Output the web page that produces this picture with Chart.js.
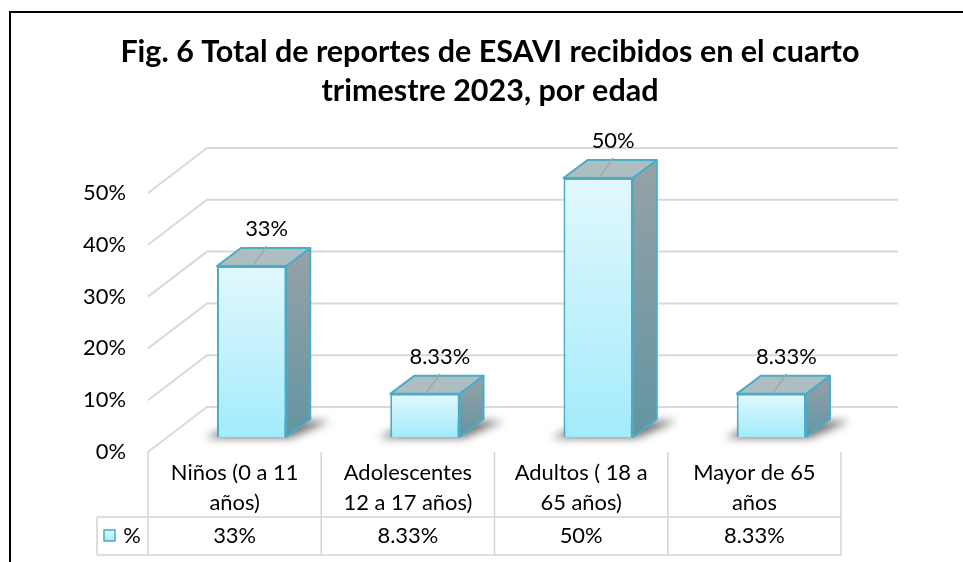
<!DOCTYPE html>
<html><head><meta charset="utf-8">
<script src="https://cdn.jsdelivr.net/npm/chart.js@4.4.1/dist/chart.umd.min.js"></script>
<style>
html,body{margin:0;padding:0;background:#fff;}
#wrap{position:relative;width:963px;height:562px;overflow:hidden;background:#fff;}
#frame{position:absolute;left:9px;top:11px;width:1000px;height:600px;border-left:2px solid #000;border-top:2px solid #000;box-sizing:border-box;}
canvas{position:absolute;left:0;top:0;}
</style></head><body>
<div id="wrap"><div id="frame"></div><canvas id="c" width="963" height="562"></canvas></div>
<script>
// ---- data ----
const titleLines = ['Fig. 6 Total de reportes de ESAVI recibidos en el cuarto', 'trimestre 2023, por edad'];
const categories = [['Niños (0 a 11', 'años)'], ['Adolescentes', '12 a 17 años)'], ['Adultos ( 18 a', '65 años)'], ['Mayor de 65', 'años']];
const seriesName = '%';
const values = [33, 8.33, 50, 8.33];
const yTicks = [0, 10, 20, 30, 40, 50];

// ---- style ----
const FAMILY = 'Lato';
function fitSize(text, weight, target) {
  const c = document.createElement('canvas').getContext('2d');
  c.font = weight + ' 100px ' + FAMILY;
  return Math.round(100 * target / c.measureText(text).width * 10) / 10;
}
const TS = fitSize(titleLines[0], 'bold', 740);
const FS = fitSize('Adolescentes', 'normal', 128);
const fmt = v => v + '%';

const D_WALL = {x: 59, y: -45};
const D_FACE = {x: 17, y: -15};
const D_BAR = {x: 24, y: -18};
const EDGE = '#4bacc6';
const GRID = '#d9d9d9';

function barRect(el) {
  const L = el.x - el.width / 2 + D_FACE.x, R = el.x + el.width / 2 + D_FACE.x;
  const T = el.y + D_FACE.y, B = el.base + D_FACE.y;
  return {L, R, T, B, cx: el.x + D_FACE.x};
}

const threeD = {
  id: 'threeD',
  beforeDatasetsDraw(chart) {
    const ctx = chart.ctx, a = chart.chartArea, ys = chart.scales.y, xs = chart.scales.x;
    ctx.save();
    ctx.strokeStyle = GRID; ctx.lineWidth = 2;
    ys.ticks.forEach(t => {
      const yp = ys.getPixelForValue(t.value);
      ctx.beginPath();
      ctx.moveTo(a.left, yp);
      ctx.lineTo(a.left + D_WALL.x, yp + D_WALL.y);
      ctx.lineTo(a.right + D_WALL.x - 2, yp + D_WALL.y);
      ctx.stroke();
    });
    // data table grid
    const n = chart.data.labels.length, cw = (a.right - a.left) / n;
    const rowY = a.bottom + 65, botY = a.bottom + 103, tabL = a.left - 51;
    ctx.strokeStyle = '#d4d4d4'; ctx.lineWidth = 1.5;
    for (let i = 0; i <= n; i++) {
      const xp = (i < n ? xs.getPixelForValue(i) - cw / 2 : xs.getPixelForValue(n - 1) + cw / 2);
      ctx.beginPath(); ctx.moveTo(xp, a.bottom); ctx.lineTo(xp, botY); ctx.stroke();
    }
    ctx.beginPath();
    ctx.moveTo(tabL, rowY); ctx.lineTo(a.right, rowY);
    ctx.moveTo(tabL, botY); ctx.lineTo(a.right, botY);
    ctx.moveTo(tabL, rowY); ctx.lineTo(tabL, botY);
    ctx.stroke();
    // shadows
    const meta = chart.getDatasetMeta(0);
    meta.data.forEach(el => {
      const r = barRect(el);
      ctx.save();
      ctx.filter = 'blur(4px)';
      ctx.fillStyle = 'rgba(0,0,0,0.55)';
      ctx.beginPath();
      ctx.moveTo(r.L - 12, r.B + 1);
      ctx.lineTo(r.R + 4, r.B + 1);
      ctx.lineTo(r.R + D_BAR.x + 20, r.B + D_BAR.y + 2);
      ctx.lineTo(r.L + D_BAR.x, r.B + D_BAR.y + 2);
      ctx.closePath(); ctx.fill();
      ctx.restore();
    });
    ctx.restore();
    ctx.save();
    ctx.translate(D_FACE.x, D_FACE.y);
  },
  afterDatasetsDraw(chart) {
    const ctx = chart.ctx;
    ctx.restore();
    const meta = chart.getDatasetMeta(0);
    ctx.save();
    meta.data.forEach((el, i) => {
      const r = barRect(el);
      // side face
      const g = ctx.createLinearGradient(0, r.T + D_BAR.y, 0, r.B);
      g.addColorStop(0, '#96a2a6'); g.addColorStop(1, '#6295a3');
      ctx.fillStyle = g;
      ctx.beginPath();
      ctx.moveTo(r.R, r.T); ctx.lineTo(r.R + D_BAR.x, r.T + D_BAR.y);
      ctx.lineTo(r.R + D_BAR.x, r.B + D_BAR.y); ctx.lineTo(r.R, r.B);
      ctx.closePath(); ctx.fill();
      ctx.strokeStyle = EDGE; ctx.lineWidth = 2; ctx.lineJoin = 'round'; ctx.stroke();
      // top face
      ctx.fillStyle = '#adbec3';
      ctx.beginPath();
      ctx.moveTo(r.L, r.T); ctx.lineTo(r.R, r.T);
      ctx.lineTo(r.R + D_BAR.x, r.T + D_BAR.y); ctx.lineTo(r.L + D_BAR.x, r.T + D_BAR.y);
      ctx.closePath(); ctx.fill(); ctx.stroke();
      // leader line
      ctx.strokeStyle = '#a6a6a6'; ctx.lineWidth = 1.5;
      ctx.beginPath(); ctx.moveTo(r.cx + 1, r.T); ctx.lineTo(r.cx + 15, r.T - 20); ctx.stroke();
      // data label
      ctx.fillStyle = '#000';
      ctx.font = FS + 'px ' + FAMILY;
      ctx.textAlign = 'center'; ctx.textBaseline = 'middle';
      ctx.fillText(fmt(chart.data.datasets[0].data[i]), r.cx + 15, r.T - 37);
    });
    ctx.restore();
  },
  afterDraw(chart) {
    const ctx = chart.ctx, a = chart.chartArea, xs = chart.scales.x;
    ctx.save();
    // title
    ctx.fillStyle = '#000';
    ctx.font = 'bold ' + TS + 'px ' + FAMILY;
    ctx.textAlign = 'center'; ctx.textBaseline = 'alphabetic';
    titleLines.forEach((t, j) => ctx.fillText(t, 490, 62 + j * 39));
    // table text
    ctx.font = FS + 'px ' + FAMILY;
    ctx.textAlign = 'center'; ctx.textBaseline = 'middle';
    chart.data.labels.forEach((lab, i) => {
      const xp = xs.getPixelForValue(i);
      lab.forEach((line, j) => ctx.fillText(line, xp, a.bottom + 21 + j * 30));
      ctx.fillText(fmt(chart.data.datasets[0].data[i]), xp, a.bottom + 84);
    });
    // legend key
    const kx = a.left - 44, ky = a.bottom + 78;
    const kg = ctx.createLinearGradient(0, ky, 0, ky + 11);
    kg.addColorStop(0, '#e2f8fd'); kg.addColorStop(1, '#a5ecfc');
    ctx.fillStyle = kg; ctx.fillRect(kx, ky, 11, 11);
    ctx.strokeStyle = EDGE; ctx.lineWidth = 1.5; ctx.strokeRect(kx, ky, 11, 11);
    ctx.fillStyle = '#000';
    ctx.fillText(chart.data.datasets[0].label, a.left - 16, a.bottom + 84);
    ctx.restore();
  }
};

const chart = new Chart(document.getElementById('c'), {
  type: 'bar',
  data: {
    labels: categories,
    datasets: [{
      label: seriesName,
      data: values,
      backgroundColor: (c) => {
        const ch = c.chart;
        if (!ch.chartArea || !ch.scales.y) return '#c8f2fc';
        const ys = ch.scales.y;
        const top = ys.getPixelForValue(c.raw), base = ys.getPixelForValue(0);
        const g = ch.ctx.createLinearGradient(0, top, 0, base);
        g.addColorStop(0, '#e2f8fd'); g.addColorStop(1, '#a3ebfb');
        return g;
      },
      borderColor: EDGE,
      borderWidth: 2,
      barPercentage: 0.4,
      categoryPercentage: 1,
      clip: false
    }]
  },
  options: {
    responsive: false,
    animation: false,
    devicePixelRatio: 1,
    layout: {padding: {left: 0, right: 122, top: 193, bottom: 110}},
    plugins: {
      legend: {display: false},
      tooltip: {enabled: false},
      title: {display: false}
    },
    scales: {
      x: {display: false},
      y: {
        min: 0, max: 50,
        afterFit(s) { s.width = 148; },
        afterBuildTicks(s) { s.ticks = yTicks.map(v => ({value: v})); },
        ticks: {padding: 22, callback: v => fmt(v), color: '#000', font: {family: FAMILY, size: FS}},
        grid: {display: false, drawTicks: false},
        border: {display: false}
      }
    }
  },
  plugins: [threeD]
});
</script>
</body></html>
